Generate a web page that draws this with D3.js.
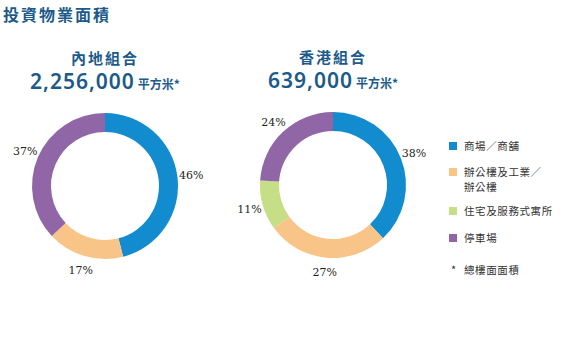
<!DOCTYPE html>
<html>
<head>
<meta charset="utf-8">
<script src="https://cdn.jsdelivr.net/npm/d3@7"></script>
<style>
  body { margin: 0; background: #fff; }
  text { font-family: "Noto Sans CJK TC", "Noto Sans", sans-serif; }
  text.pct { font-family: "DejaVu Serif", serif; }
  tspan.num { font-family: "Noto Sans", sans-serif; }
</style>
</head>
<body>
<svg id="chart" width="562" height="353"></svg>
<script>
// données
const categories = ['商場／商舖', '辦公樓及工業／辦公樓', '住宅及服務式寓所', '停車場']
const colours = ['#128ccf', '#f9c487', '#c6de86', '#9066a7']
const mainlandValues = [46, 17, 0, 37]
const hongkongValues = [38, 27, 11, 24]
const portfolioNames = ['內地組合', '香港組合']
const portfolioAreas = ['2,256,000', '639,000']

const svg = d3.select('#chart')
const titleBlue = '#1c5a8a'

// titre
svg.append('text')
  .attr('x', 3).attr('y', 21)
  .attr('fill', titleBlue)
  .attr('font-size', 16).attr('font-weight', 700)
  .attr('letter-spacing', 2)
  .text('投資物業面積')

const rOuter = 73, rInner = 54, rLabel = 87
const arc = d3.arc().innerRadius(rInner).outerRadius(rOuter)
const pie = d3.pie().sort(null).value(d => d)

const drawDonut = (values, cx, cy, name, area) => {
  const g = svg.append('g').attr('transform', `translate(${cx},${cy})`)
  const slices = pie(values)

  g.selectAll('path')
    .data(slices)
    .enter()
    .append('path')
    .attr('d', arc)
    .attr('fill', (d, i) => colours[i])

  g.selectAll('text.pct')
    .data(slices.filter(d => d.data > 0))
    .enter()
    .append('text')
    .attr('class', 'pct')
    .attr('x', d => rLabel * Math.sin((d.startAngle + d.endAngle) / 2))
    .attr('y', d => -rLabel * Math.cos((d.startAngle + d.endAngle) / 2) + 4)
    .attr('text-anchor', 'middle')
    .attr('font-size', 11)
    .attr('fill', '#231f20')
    .text(d => d.data + '%')

  // nom du portefeuille
  svg.append('text')
    .attr('x', cx).attr('y', cy - 122)
    .attr('text-anchor', 'middle')
    .attr('fill', titleBlue)
    .attr('font-size', 15).attr('font-weight', 700)
    .attr('letter-spacing', 2)
    .text(name)

  const t = svg.append('text')
    .attr('x', cx).attr('y', cy - 97)
    .attr('text-anchor', 'middle')
    .attr('fill', titleBlue)
  t.append('tspan').attr('class', 'num')
    .attr('font-size', 21).attr('font-weight', 600)
    .attr('letter-spacing', 1).text(area)
  t.append('tspan').attr('font-size', 12).attr('font-weight', 700).attr('dx', 3).text('平方米*')
}

drawDonut(mainlandValues, 105, 186, portfolioNames[0], portfolioAreas[0])
drawDonut(hongkongValues, 333, 185, portfolioNames[1], portfolioAreas[1])

// légende
const legendY = [146, 172, 211, 238]
const legend = svg.append('g').attr('transform', 'translate(449,0)')
categories.forEach((c, i) => {
  legend.append('rect')
    .attr('x', 0).attr('y', legendY[i] - 4)
    .attr('width', 8).attr('height', 8)
    .attr('fill', colours[i])
  const lines = c === '辦公樓及工業／辦公樓' ? ['辦公樓及工業／', '辦公樓'] : [c]
  lines.forEach((l, j) => {
    legend.append('text')
      .attr('x', 15).attr('y', legendY[i] + 4 + j * 15)
      .attr('font-size', 10.5)
      .attr('letter-spacing', 0.6)
      .attr('fill', '#333')
      .text(l)
  })
})
legend.append('text')
  .attr('x', 2).attr('y', 274)
  .attr('font-size', 11).attr('fill', '#333')
  .text('*')
legend.append('text')
  .attr('x', 15).attr('y', 274)
  .attr('font-size', 10.5).attr('fill', '#333')
  .attr('letter-spacing', 0.6)
  .text('總樓面面積')
</script>
</body>
</html>
